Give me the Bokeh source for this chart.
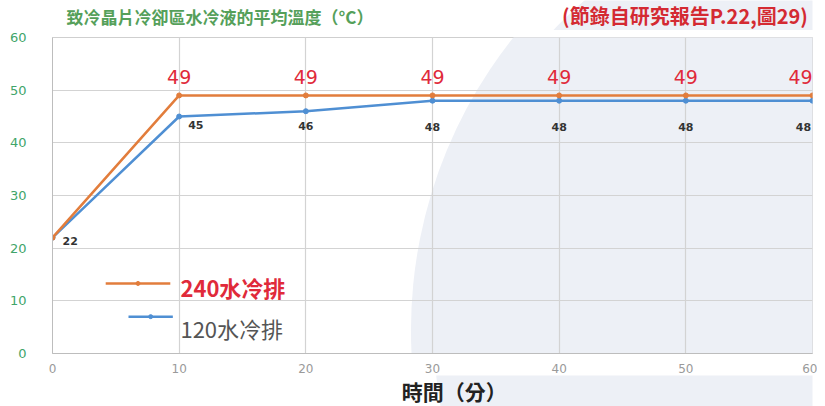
from bokeh.plotting import figure
from bokeh.layouts import column
from bokeh.models import ColumnDataSource, Label, Range1d, FixedTicker
from bokeh.core.properties import value
from bokeh.embed import file_html
from bokeh.resources import INLINE

minutes = [0, 10, 20, 30, 40, 50, 60]
temp_240 = [22, 49, 49, 49, 49, 49, 49]
temp_120 = [22, 45, 46, 48, 48, 48, 48]
y_ticks = [0, 10, 20, 30, 40, 50, 60]
x_ticks = [0, 10, 20, 30, 40, 50, 60]

name_240 = "240水冷排"
name_120 = "120水冷排"
y_title = "致冷晶片冷卻區水冷液的平均溫度（°C）"
x_title = "時間（分）"
note = "(節錄自研究報告P.22,圖29)"

ORANGE = "#e27d3c"
BLUE = "#4f8fd3"
RED = "#e02a3a"
GREEN = "#55a05a"
TINT = "#edf0f6"
CJK = "Noto Sans CJK TC"
W = 817
HH = 30   # header height
FH = 31   # footer height


def strip(height):
    f = figure(width=W, height=height, output_backend="svg", toolbar_location=None,
               x_range=Range1d(0, W), y_range=Range1d(0, height), min_border=0,
               x_axis_location=None, y_axis_location=None, title=None)
    f.grid.visible = False
    f.outline_line_color = None
    return f


# ---- header strip with the two titles ----
h = strip(HH)
h.circle(x=[880], y=[HH - 330], radius=470, fill_color=TINT, line_color=None, level="underlay")
h.add_layout(Label(x=15, y=HH - 16, text=y_title, text_color=GREEN, text_font=CJK,
                   text_font_size="17px", text_font_style="bold", text_baseline="middle"))
h.add_layout(Label(x=812, y=HH - 15, text=note, text_color="#d42a32", text_font=CJK,
                   text_font_size="20px", text_font_style="bold", text_baseline="middle",
                   text_align="right"))

# ---- main chart ----
p = figure(width=W, height=345, output_backend="svg", toolbar_location=None, title=None,
           x_range=Range1d(0, 60), y_range=Range1d(0, 60),
           min_border_left=52, min_border_right=5, min_border_top=7, min_border_bottom=20)
p.outline_line_color = "#cfcfcf"
p.background_fill_color = "white"
p.border_fill_color = "white"

p.circle(x=[65.4], y=[4.4], radius=37.1, fill_color=TINT, line_color=None, level="underlay")

for ax in (p.xaxis[0], p.yaxis[0]):
    ax.axis_line_color = "#bdbdbd"
    ax.major_tick_line_color = None
    ax.minor_tick_line_color = None
    ax.major_label_text_font = "DejaVu Sans"
p.xaxis.ticker = FixedTicker(ticks=x_ticks)
p.yaxis.ticker = FixedTicker(ticks=y_ticks)
p.xaxis.major_label_text_font_size = "12px"
p.yaxis.major_label_text_font_size = "13px"
p.xaxis.major_label_text_color = "#9a9a9a"
p.yaxis.major_label_text_color = "#3fa56a"
p.xaxis.major_label_standoff = 4
p.yaxis.major_label_standoff = 20
p.grid.grid_line_color = "#d3d3d3"
p.grid.grid_line_width = 1.2

src = ColumnDataSource(dict(x=minutes, a=temp_240, b=temp_120,
                            ta=[""] + [str(v) for v in temp_240[1:]],
                            tb=[str(v) for v in temp_120],
                            ox=[0, 0, 0, 0, 0, 0, -12],
                            obx=[10, 9, 0, 0, 0, 0, -9],
                            oby=[3, 8, 15, 26, 26, 26, 26],
                            alb=["left", "left", "center", "center", "center", "center", "center"]))

p.line("x", "b", source=src, line_color=BLUE, line_width=2.5)
p.scatter("x", "b", source=src, size=5, color=BLUE)
p.line("x", "a", source=src, line_color=ORANGE, line_width=2.5)
p.scatter("x", "a", source=src, size=5, color=ORANGE)

p.text("x", "a", text="ta", source=src, x_offset="ox", y_offset=-11,
       text_align="center", text_baseline="bottom", text_color=RED,
       text_font=value("DejaVu Sans"), text_font_size="19px")
p.text("x", "b", text="tb", source=src, x_offset="obx", y_offset="oby",
       text_align="alb", text_baseline="middle", text_color="#333333",
       text_font=value("DejaVu Sans"), text_font_size="11px", text_font_style="bold")

# legend (manual)
p.segment(x0=[4.2], y0=[13.3], x1=[9.3], y1=[13.3], line_color=ORANGE, line_width=2.5)
p.scatter(x=[6.75], y=[13.3], size=4, color=ORANGE)
p.segment(x0=[6.0], y0=[7.0], x1=[9.5], y1=[7.0], line_color=BLUE, line_width=2.5)
p.scatter(x=[7.75], y=[7.0], size=4, color=BLUE)
p.add_layout(Label(x=10.1, y=12.6, text=name_240, text_color=RED, text_font=CJK,
                   text_font_size="22px", text_font_style="bold", text_baseline="middle"))
p.add_layout(Label(x=10.1, y=4.9, text=name_120, text_color="#555555", text_font=CJK,
                   text_font_size="22px", text_baseline="middle"))

# ---- footer strip with the x-axis title ----
f = strip(FH)
f.circle(x=[880], y=[FH + 45], radius=470, fill_color=TINT, line_color=None, level="underlay")
f.add_layout(Label(x=432, y=FH - 15, text=x_title, text_color="#222222", text_font=CJK,
                   text_font_size="21px", text_font_style="bold", text_baseline="middle",
                   text_align="center"))

layout = column(h, p, f, spacing=0)
open("out.html", "w").write(file_html(layout, INLINE))
